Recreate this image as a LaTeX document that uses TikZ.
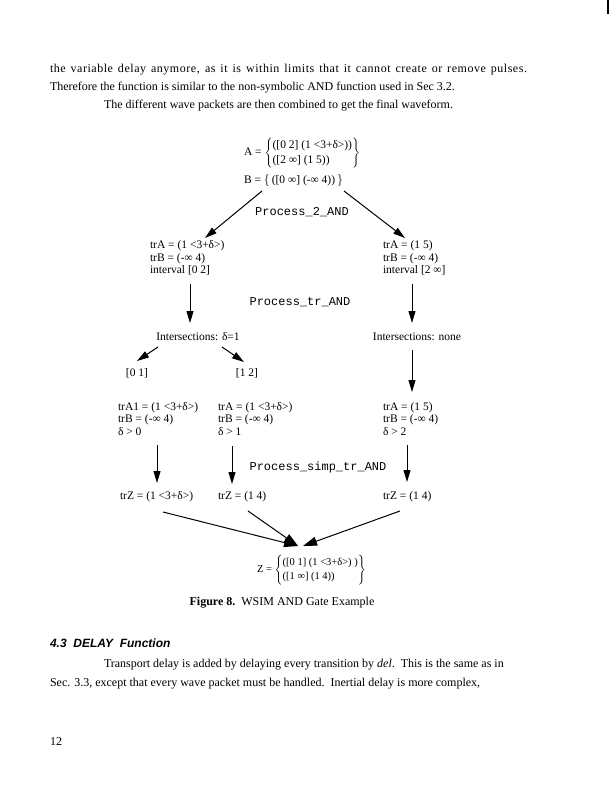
\documentclass[tikz,border=0pt]{standalone}
\usepackage{fontspec}
\setmainfont{Liberation Serif}
\newfontfamily\monof{Liberation Mono}
\newfontfamily\headf{Liberation Sans}
\usetikzlibrary{arrows.meta,calc}
\begin{document}
\begin{tikzpicture}[x=1pt,y=-1pt,
  every node/.style={inner sep=0pt, outer sep=0pt},
  body/.style={anchor=west, font=\fontsize{12}{14}\selectfont},
  blk/.style={anchor=west, align=left, font=\fontsize{11.5}{12.5}\selectfont},
  lbl/.style={font=\fontsize{11.5}{12.5}\selectfont},
  code/.style={font=\monof\fontsize{12}{14}\selectfont},
  arr/.style={line width=1pt, -{Triangle[length=12pt,width=7pt]}},
  bigarr/.style={line width=1pt, -{Triangle[length=14pt,width=9pt]}}]
\fill[white] (0,0) rectangle (612,791);
\useasboundingbox (0,0) rectangle (612,791);
% body text
\node[body] (t1) at (50,70) {\addfontfeature{LetterSpace=4.5}\makebox[477pt][s]{the variable delay anymore, as it is within limits that it cannot create or remove pulses.}};
\node[body] (t2) at (50,88) {Therefore the function is similar to the non-symbolic AND function used in Sec 3.2.};
\node[body] (t3) at (104,106) {The different wave packets are then combined to get the final waveform.};
% diagram
\node[lbl, anchor=west] (An) at (244,153) {A = $\left\{\renewcommand\arraystretch{1.2}\begin{tabular}{@{}l@{}}([0 2] (1 <3+δ>))\\([2 ∞] (1 5))\end{tabular}\right\}$};
\node[lbl, anchor=west] (Bn) at (244,181) {B = $\bigl\{$\,([0 ∞] (-∞ 4))\,$\bigr\}$};
\node[code] (p2) at (302,212) {Process\_2\_AND};
\node[blk] (L1) at (150,258) {trA = (1 <3+δ>)\\trB = (-∞ 4)\\interval [0 2]};
\node[blk] (R1) at (383,258) {trA = (1 5)\\trB = (-∞ 4)\\interval [2 ∞]};
\node[code] (p3) at (300,302) {Process\_tr\_AND};
\node[lbl] (IL) at (198,337) {Intersections: δ=1};
\node[lbl] (IR) at (417,337) {Intersections: none};
\node[lbl] (I01) at (137,373) {[0 1]};
\node[lbl] (I12) at (247,373) {[1 2]};
\node[blk] (L2) at (118,419) {trA1 = (1 <3+δ>)\\trB = (-∞ 4)\\δ > 0};
\node[blk] (M2) at (218,419) {trA = (1 <3+δ>)\\trB = (-∞ 4)\\δ > 1};
\node[blk] (R2) at (383,419) {trA = (1 5)\\trB = (-∞ 4)\\δ > 2};
\node[code] (p4) at (318,467) {Process\_simp\_tr\_AND};
\node[lbl,anchor=west] (ZL) at (120,497) {trZ = (1 <3+δ>)};
\node[lbl,anchor=west] (ZM) at (218,497) {trZ = (1 4)};
\node[lbl,anchor=west] (ZR) at (383,497) {trZ = (1 4)};
\node[anchor=west, font=\fontsize{10.5}{12}\selectfont] (Zn) at (257,570) {Z = $\left\{\renewcommand\arraystretch{1.15}\begin{tabular}{@{}l@{}}([0 1] (1 <3+δ>) )\\([1 ∞] (1 4))\end{tabular}\right\}$};
\node[font=\fontsize{12}{14}\selectfont] (cap) at (282,603) {\textbf{Figure 8.}\ \ WSIM AND Gate Example};
% arrows
\draw[arr] ($(Bn.west)+(18,10)$) -- ($(L1.west)+(55,-20)$);
\draw[arr] ($(Bn.west)+(100,10)$) -- ($(R1.west)+(22,-20)$);
\draw[arr] ($(L1.west)+(40,26)$) -- ($(IL.center)+(-8,-14)$);
\draw[arr] ($(R1.west)+(29,26)$) -- ($(IR.center)+(-5,-14)$);
\draw[arr] ($(IL.center)+(-40,10)$) -- ($(I01.center)+(0,-12)$);
\draw[arr] ($(IL.center)+(24,10)$) -- ($(I12.center)+(-3,-11)$);
\draw[arr] ($(IR.center)+(-5,13)$) -- ($(R2.west)+(29,-27)$);
\draw[arr] ($(L2.west)+(39,26)$) -- ($(ZL.west)+(37,-14)$);
\draw[arr] ($(M2.west)+(14,27)$) -- ($(ZM.west)+(14,-13)$);
\draw[arr] ($(R2.west)+(24,26)$) -- ($(ZR.west)+(24,-15)$);
\draw[bigarr] ($(ZL.west)+(43,15)$) -- ($(Zn.west)+(41,-24)$);
\draw[bigarr] ($(ZM.west)+(30,14)$) -- ($(Zn.west)+(41,-24)$);
\draw[bigarr] ($(ZR.west)+(17,14)$) -- ($(Zn.west)+(46,-24)$);
% following text
\node[anchor=west, font=\headf\bfseries\itshape\fontsize{12}{14}\selectfont] (h) at (50,643) {4.3\ \ DELAY\ \ Function};
\node[body] (p1) at (104,665) {Transport delay is added by delaying every transition by \textit{del}.\ \ This is the same as in};
\node[body] (pp2) at (50,684) {Sec. 3.3, except that every wave packet must be handled.\ \ Inertial delay is more complex,};
\node[body] (pg) at (50,742) {12};
\fill (606.5,0) rectangle (609,14);
\end{tikzpicture}
\end{document}
